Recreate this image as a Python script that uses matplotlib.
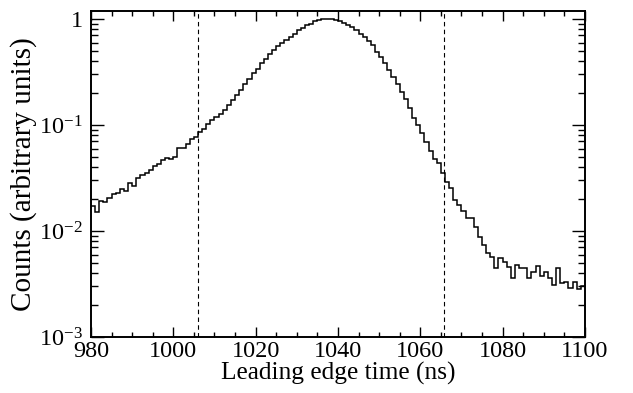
import numpy as np
import matplotlib
matplotlib.use("Agg")
import matplotlib.pyplot as plt
from matplotlib.ticker import FixedLocator, LogLocator, FuncFormatter, MultipleLocator

plt.rcParams['font.family'] = ['Liberation Serif', 'DejaVu Serif']
plt.rcParams['mathtext.fontset'] = 'custom'
plt.rcParams['mathtext.rm'] = 'Liberation Serif'
plt.rcParams['mathtext.it'] = 'Liberation Serif:italic'

# histogram: 1 ns bins from 980 to 1100 ns, normalised to the peak
bin_edges = np.arange(980, 1101, 1)
counts_rise = [0.0172, 0.0152, 0.0193, 0.0189, 0.0205, 0.0223, 0.0230, 0.0249,
               0.0240, 0.0284, 0.0266, 0.0316, 0.0340, 0.0353, 0.0376, 0.0410,
               0.0428, 0.0468, 0.0489, 0.0481, 0.0502, 0.0603, 0.0603, 0.0662,
               0.0733, 0.0776, 0.0850, 0.0917, 0.102, 0.111, 0.119, 0.127,
               0.139, 0.154, 0.172, 0.192, 0.214, 0.244, 0.270, 0.308,
               0.335, 0.382, 0.419, 0.468, 0.510, 0.556, 0.594]
counts_peak = [0.634, 0.676, 0.727, 0.782, 0.823, 0.873, 0.903, 0.951, 0.985,
               1.0, 1.0, 0.993, 0.985, 0.957, 0.917, 0.884, 0.840, 0.782,
               0.727, 0.676, 0.616]
counts_fall = [0.569, 0.492, 0.441, 0.382, 0.330, 0.286, 0.244, 0.206, 0.175,
               0.144, 0.116, 0.100, 0.0835, 0.0695, 0.0569, 0.0478, 0.0438,
               0.0350, 0.0292, 0.0253, 0.0196, 0.0176, 0.0154, 0.0132, 0.0132,
               0.0110, 0.00872, 0.00738, 0.00616, 0.00573, 0.00445, 0.00552,
               0.00513, 0.00460, 0.00362, 0.00478, 0.00445, 0.00445, 0.00362,
               0.00413, 0.00471, 0.00376, 0.00413, 0.00362, 0.00310, 0.00445,
               0.00321, 0.00332, 0.00288, 0.00332, 0.00282, 0.00303]
counts = np.array(counts_rise + counts_peak + counts_fall)
assert len(counts) == len(bin_edges) - 1

# selection window
cut_lines = [1005.9, 1065.8]

fig = plt.figure(figsize=(6.33, 3.93), dpi=100)
ax = fig.add_axes([0.1438, 0.1425, 0.924 - 0.1438, 0.972 - 0.1425])

ax.stairs(counts, bin_edges, color='black', linewidth=1.1, baseline=None)
for xc in cut_lines:
    ax.axvline(xc, color='black', linewidth=0.8, linestyle=(0, (4, 3)))

ax.set_yscale('log')
ax.set_xlim(980, 1100)
ax.set_ylim(1e-3, 1.19)

ax.xaxis.set_major_locator(MultipleLocator(20))
ax.xaxis.set_minor_locator(MultipleLocator(5))
ax.yaxis.set_major_locator(FixedLocator([1e-3, 1e-2, 1e-1, 1]))
ax.yaxis.set_minor_locator(LogLocator(base=10, subs=np.arange(2, 10)))
ax.yaxis.set_minor_formatter(FuncFormatter(lambda v, p: ''))


def log_label(v, pos):
    e = int(round(np.log10(v)))
    if e == 0:
        return '1'
    return r'$\mathregular{10^{%d}}$' % e


ax.yaxis.set_major_formatter(FuncFormatter(log_label))

ax.tick_params(which='both', direction='in', top=True, right=True, labelsize=17.5,
               width=1.0)
ax.tick_params(axis='x', which='major', length=7.2, pad=3)
ax.tick_params(axis='x', which='minor', length=3.6)
ax.tick_params(axis='y', which='major', length=9.4, pad=6)
ax.tick_params(axis='y', which='minor', length=4.7)
for s in ax.spines.values():
    s.set_linewidth(1.4)

ax.set_xlabel('Leading edge time (ns)', fontsize=18.3, labelpad=0)
ax.set_ylabel('Counts (arbitrary units)', fontsize=21)
ax.yaxis.set_label_coords(-0.11, 0.5)

fig.savefig('out.png', dpi=100)
